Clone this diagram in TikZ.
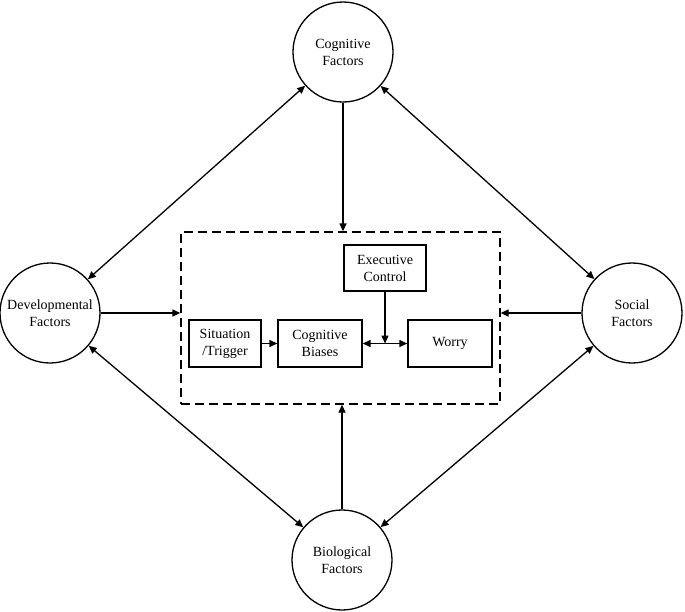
\documentclass[tikz,border=0pt]{standalone}
\usepackage{fontspec}
\setmainfont{Liberation Serif}
\usetikzlibrary{arrows.meta}
\begin{document}
\begin{tikzpicture}[x=1pt,y=-1pt,
  every node/.style={font=\fontsize{14}{17}\selectfont, align=center},
  fac/.style={draw, circle, line width=1.3pt, minimum size=100pt, inner sep=0pt},
  boxn/.style={draw, rectangle, line width=1.3pt, inner sep=0pt},
  arr/.style={line width=1.3pt, -{Triangle[length=8pt,width=7pt]}},
  darr/.style={line width=1.3pt, {Triangle[length=8pt,width=7pt]}-{Triangle[length=8pt,width=7pt]}}
]
\useasboundingbox (0,0) rectangle (685,611);
% dashed frame
\node[draw, dash pattern=on 9pt off 5pt, line width=1.3pt, minimum width=319pt, minimum height=172pt, inner sep=0pt] (frame) at (340.5,318) {};
% circles
\node[fac] (cog) at (343,52) {Cognitive\\Factors};
\node[fac] (dev) at (50,313) {Developmental\\Factors};
\node[fac] (soc) at (632,313) {Social\\Factors};
\node[fac] (bio) at (342,560) {Biological\\Factors};
% inner boxes
\node[boxn, minimum width=82pt, minimum height=46pt] (ec) at (385,268) {Executive\\Control};
\node[boxn, minimum width=72pt, minimum height=47pt] (st) at (225,343.5) {Situation\\/Trigger};
\node[boxn, minimum width=84pt, minimum height=47pt] (cb) at (320,343.5) {Cognitive\\Biases};
\node[boxn, minimum width=84pt, minimum height=47pt] (wo) at (450,343.5) {Worry};
% connectors
\draw[arr] (cog.south) -- (cog.south |- frame.north);
\draw[arr] (bio.north) -- (bio.north |- frame.south);
\draw[arr] (dev.east) -- (dev.east -| frame.west);
\draw[arr] (soc.west) -- (soc.west -| frame.east);
\draw[darr] (cog) -- (dev);
\draw[darr] (cog) -- (soc);
\draw[darr] (dev) -- (bio);
\draw[darr] (soc) -- (bio);
\draw[arr] (st.east) -- (cb.west);
\draw[darr] (cb.east) -- (wo.west);
\draw[arr] (ec.south) -- (ec.south |- cb.east);
\end{tikzpicture}
\end{document}
